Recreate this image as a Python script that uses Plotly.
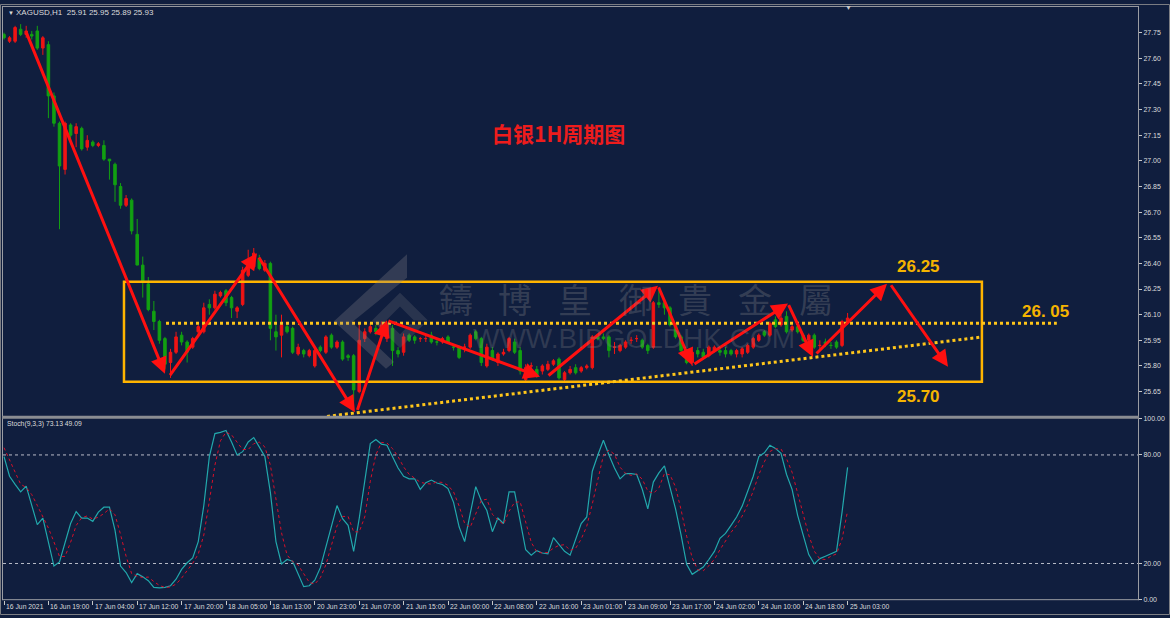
import plotly.graph_objects as go

W, H = 1170, 618
BG = '#101e3e'
RED = '#f01414'
GREEN = '#12a012'
GOLD = '#ffb400'
DOT = '#ffc61a'
TXT = '#dcdcdc'
FONT = 'Liberation Sans'

# ---------------- data ----------------
bar_index = list(range(153))
open_ = [27.74, 27.70, 27.70, 27.77, 27.74, 27.74, 27.76, 27.66, 27.68, 27.38,
         27.22, 26.95, 27.21, 27.16, 27.19, 27.08, 27.11, 27.09, 27.09, 27.01,
         26.98, 26.85, 26.74, 26.77, 26.57, 26.39, 26.28, 26.12, 26.06, 25.96,
         25.82, 25.88, 25.98, 25.94, 25.91, 26.00, 26.00, 26.16, 26.14, 26.21,
         26.24, 26.20, 26.12, 26.16, 26.33, 26.38, 26.43, 26.36, 26.40, 26.00,
         25.98, 26.03, 26.02, 25.87, 25.89, 25.86, 25.80, 25.91, 25.88, 25.98,
         25.91, 25.94, 25.86, 25.86, 25.65, 25.96, 26.00, 26.02, 26.01, 25.96,
         26.02, 25.89, 25.88, 25.98, 25.97, 25.96, 25.96, 25.98, 25.94, 25.94,
         25.97, 25.91, 25.91, 25.91, 25.91, 26.00, 25.96, 25.80, 25.89, 25.82,
         25.87, 25.89, 25.94, 25.89, 25.72, 25.80, 25.78, 25.77, 25.78, 25.81,
         25.84, 25.72, 25.76, 25.79, 25.77, 25.79, 25.79, 25.97, 25.97, 25.97,
         25.91, 25.89, 25.91, 25.95, 25.96, 25.95, 25.92, 25.91, 26.17, 26.17,
         26.14, 26.04, 25.97, 25.89, 25.82, 25.89, 25.88, 25.86, 25.89, 25.89,
         25.89, 25.89, 25.87, 25.87, 25.88, 25.91, 25.95, 26.00, 25.98, 26.07,
         26.04, 26.09, 26.01, 26.03, 25.98, 25.95, 25.98, 25.92, 25.94, 25.92,
         25.94, 25.92, 26.05]
high = [27.75, 27.73, 27.79, 27.80, 27.79, 27.76, 27.79, 27.73, 27.70, 27.40,
        27.23, 27.23, 27.22, 27.22, 27.20, 27.15, 27.12, 27.11, 27.12, 27.01,
        26.99, 26.87, 26.80, 26.78, 26.66, 26.44, 26.32, 26.18, 26.07, 25.97,
        25.90, 26.00, 26.00, 25.95, 25.97, 26.04, 26.17, 26.19, 26.24, 26.24,
        26.25, 26.21, 26.15, 26.38, 26.48, 26.49, 26.45, 26.42, 26.41, 26.10,
        26.10, 26.05, 26.03, 25.93, 25.90, 25.90, 25.90, 25.92, 25.98, 25.99,
        25.95, 25.95, 25.87, 25.87, 26.05, 26.02, 26.05, 26.04, 26.06, 26.05,
        26.04, 25.91, 25.99, 25.99, 25.98, 25.97, 25.98, 26.00, 25.95, 25.97,
        25.98, 25.92, 25.92, 25.93, 25.99, 26.01, 25.97, 25.93, 25.91, 25.88,
        25.90, 25.97, 25.96, 25.91, 25.81, 25.82, 25.80, 25.81, 25.83, 25.84,
        25.85, 25.77, 25.80, 25.81, 25.80, 25.81, 25.98, 25.98, 25.99, 25.98,
        25.94, 25.93, 25.95, 25.97, 25.98, 25.96, 25.93, 26.18, 26.25, 26.18,
        26.15, 26.05, 25.98, 25.90, 25.89, 25.91, 25.90, 25.92, 25.92, 25.90,
        25.91, 25.90, 25.90, 25.91, 25.93, 25.97, 25.99, 26.01, 26.06, 26.09,
        26.10, 26.12, 26.04, 26.04, 25.99, 25.99, 25.99, 25.95, 25.96, 25.94,
        25.95, 26.07, 26.11]
low = [27.71, 27.69, 27.69, 27.73, 27.72, 27.71, 27.65, 27.62, 27.25, 27.20,
       26.60, 26.92, 27.12, 27.08, 27.06, 27.06, 27.08, 27.08, 27.00, 26.89,
       26.76, 26.72, 26.73, 26.57, 26.39, 26.20, 26.12, 26.01, 25.93, 25.78,
       25.73, 25.87, 25.92, 25.82, 25.90, 25.98, 25.99, 26.10, 26.13, 26.20,
       26.15, 26.08, 26.08, 26.15, 26.32, 26.37, 26.36, 26.35, 25.95, 25.89,
       25.85, 25.99, 25.87, 25.86, 25.85, 25.85, 25.79, 25.88, 25.87, 25.90,
       25.90, 25.83, 25.83, 25.59, 25.64, 25.94, 25.99, 25.98, 26.00, 25.94,
       25.80, 25.85, 25.86, 25.94, 25.93, 25.94, 25.94, 25.93, 25.92, 25.93,
       25.93, 25.89, 25.84, 25.88, 25.90, 25.95, 25.80, 25.79, 25.83, 25.80,
       25.86, 25.88, 25.87, 25.75, 25.70, 25.78, 25.73, 25.75, 25.77, 25.80,
       25.72, 25.70, 25.75, 25.75, 25.76, 25.78, 25.78, 25.95, 25.95, 25.85,
       25.87, 25.88, 25.90, 25.93, 25.94, 25.90, 25.87, 25.90, 26.14, 26.10,
       26.03, 25.96, 25.88, 25.81, 25.80, 25.85, 25.84, 25.85, 25.88, 25.86,
       25.85, 25.86, 25.85, 25.85, 25.87, 25.90, 25.94, 25.97, 25.97, 26.02,
       26.03, 25.99, 26.00, 25.99, 25.94, 25.94, 25.90, 25.90, 25.91, 25.90,
       25.90, 25.91, 26.04]
close = [27.72, 27.72, 27.78, 27.74, 27.76, 27.73, 27.66, 27.72, 27.38, 27.22,
         26.97, 27.22, 27.15, 27.20, 27.07, 27.12, 27.09, 27.10, 27.01, 27.00,
         26.86, 26.74, 26.78, 26.59, 26.39, 26.29, 26.13, 26.06, 25.95, 25.81,
         25.88, 25.97, 25.94, 25.88, 25.96, 26.03, 26.14, 26.14, 26.22, 26.23,
         26.17, 26.14, 26.14, 26.36, 26.40, 26.46, 26.37, 26.40, 26.02, 25.97,
         26.04, 26.00, 25.88, 25.91, 25.87, 25.89, 25.89, 25.89, 25.97, 25.91,
         25.94, 25.84, 25.85, 25.66, 25.95, 26.00, 26.03, 26.00, 26.04, 26.04,
         25.89, 25.87, 25.97, 25.95, 25.95, 25.96, 25.96, 25.94, 25.94, 25.96,
         25.94, 25.91, 25.85, 25.91, 25.98, 25.96, 25.82, 25.91, 25.84, 25.87,
         25.88, 25.96, 25.88, 25.77, 25.79, 25.80, 25.74, 25.80, 25.81, 25.83,
         25.73, 25.76, 25.78, 25.76, 25.79, 25.80, 25.97, 25.96, 25.96, 25.89,
         25.91, 25.92, 25.94, 25.95, 25.96, 25.91, 25.89, 26.17, 26.16, 26.14,
         26.04, 25.97, 25.89, 25.82, 25.88, 25.87, 25.85, 25.91, 25.91, 25.88,
         25.87, 25.87, 25.89, 25.90, 25.92, 25.96, 25.98, 25.98, 26.05, 26.03,
         26.08, 26.00, 26.03, 26.00, 25.95, 25.98, 25.91, 25.92, 25.93, 25.92,
         25.91, 26.06, 26.08]

stoch_main = [79.1, 68.2, 63.7, 59.6, 62.8, 52.0, 41.5, 45.1, 32.1, 18.6,
              20.9, 32.1, 42.1, 48.7, 45.1, 45.1, 43.3, 48.4, 51.1, 51.1,
              38.4, 18.6, 15.0, 9.5, 14.4, 12.6, 10.5, 6.8, 6.5, 6.8,
              7.7, 11.3, 16.7, 20.4, 23.1, 32.1, 52.0, 79.1, 91.8, 92.5,
              93.5, 87.2, 80.0, 81.8, 87.2, 89.6, 84.5, 79.1, 59.2, 32.1,
              19.8, 22.2, 21.3, 14.0, 7.2, 7.7, 10.8, 17.7, 29.4, 41.1,
              52.0, 44.8, 41.1, 26.7, 44.8, 65.5, 86.3, 88.5, 86.0, 85.4,
              79.1, 72.8, 68.2, 66.8, 66.8, 61.0, 64.7, 66.1, 64.5, 63.7,
              61.4, 53.8, 40.3, 32.1, 47.5, 62.5, 54.7, 49.3, 37.6, 45.1,
              42.1, 59.6, 59.6, 43.0, 27.6, 24.6, 27.1, 25.8, 25.3, 34.3,
              30.3, 26.7, 24.6, 33.9, 42.1, 45.7, 71.0, 80.0, 88.1, 80.0,
              72.8, 66.8, 69.7, 69.7, 69.2, 61.0, 50.2, 65.0, 70.1, 74.0,
              62.8, 50.2, 35.7, 19.5, 14.0, 15.9, 18.0, 22.2, 26.7, 33.9,
              36.6, 41.1, 45.7, 51.7, 60.1, 68.2, 79.1, 81.2, 85.4, 83.6,
              80.9, 69.2, 61.0, 46.6, 35.7, 24.9, 19.8, 22.7, 24.0, 25.3,
              26.7, 48.4, 73.13]
stoch_signal = [84.0, 77.0, 70.3, 63.8, 62.0, 58.1, 52.1, 46.2, 39.6, 31.9,
                23.9, 23.9, 31.7, 41.0, 45.3, 46.3, 44.5, 45.6, 47.6, 50.2,
                46.9, 36.0, 24.0, 14.4, 13.0, 12.2, 12.5, 10.0, 7.9, 6.7,
                7.0, 8.6, 11.9, 16.1, 20.1, 25.2, 35.7, 54.4, 74.3, 87.8,
                92.6, 91.1, 86.9, 83.0, 83.0, 86.2, 87.1, 84.4, 74.3, 56.8,
                37.0, 24.7, 21.1, 19.2, 14.2, 9.6, 8.6, 12.1, 19.3, 29.4,
                40.8, 46.0, 46.0, 37.5, 37.5, 45.7, 65.5, 80.1, 86.9, 86.6,
                83.5, 79.1, 73.4, 69.3, 67.3, 64.9, 64.2, 63.9, 65.1, 64.8,
                63.2, 59.6, 51.8, 42.1, 40.0, 47.4, 54.9, 55.5, 47.2, 44.0,
                41.6, 48.9, 53.8, 54.1, 43.4, 31.7, 26.4, 25.8, 26.1, 28.5,
                30.0, 30.4, 27.2, 28.4, 33.5, 40.6, 52.9, 65.6, 79.7, 82.7,
                80.3, 73.2, 69.8, 68.7, 69.5, 66.6, 60.1, 58.7, 61.8, 69.7,
                69.0, 62.3, 49.6, 35.1, 23.1, 16.5, 16.0, 18.7, 22.3, 27.6,
                32.4, 37.2, 41.1, 46.2, 52.5, 60.0, 69.1, 76.2, 81.9, 83.4,
                83.3, 77.9, 70.4, 58.9, 47.8, 35.7, 26.8, 22.5, 22.2, 24.0,
                25.3, 33.5, 49.09]

time_label_index = [0, 8, 16, 24, 32, 40, 48, 56, 64, 72, 80, 88, 96, 104,
                    112, 120, 128, 136, 144, 152]
time_labels = ['16 Jun 2021', '16 Jun 19:00', '17 Jun 04:00', '17 Jun 12:00',
               '17 Jun 20:00', '18 Jun 05:00', '18 Jun 13:00', '20 Jun 23:00',
               '21 Jun 07:00', '21 Jun 15:00', '22 Jun 00:00', '22 Jun 08:00',
               '22 Jun 16:00', '23 Jun 01:00', '23 Jun 09:00', '23 Jun 17:00',
               '24 Jun 02:00', '24 Jun 10:00', '24 Jun 18:00', '25 Jun 03:00']
price_ticks = [25.65, 25.80, 25.95, 26.10, 26.25, 26.40, 26.55, 26.70, 26.85,
               27.00, 27.15, 27.30, 27.45, 27.60, 27.75]
stoch_ticks = [0, 20, 80, 100]

# analyst drawings (bar index, price)
zigzag = [(3.96, 27.756, 29.0, 25.754), (29.73, 25.737, 45.59, 26.460),
          (45.77, 26.443, 63.24, 25.529), (63.6, 25.534, 69.0, 26.067),
          (69.0, 26.067, 96.58, 25.737), (97.84, 25.737, 117.84, 26.269),
          (117.84, 26.269, 123.96, 25.806), (124.14, 25.806, 141.26, 26.165),
          (141.26, 26.165, 145.77, 25.853), (146.13, 25.864, 159.1, 26.281),
          (159.64, 26.281, 170.09, 25.795)]
box_range = (21.62, 176.2, 25.708, 26.292)
resistance = (29.19, 189.7, 26.05)
support_line = (58.2, 25.505, 175.9, 25.968)
level_labels = [('26.25', 164.7, 26.379), ('26. 05', 187.7, 26.119), ('25.70', 164.7, 25.621)]

# ---------------- geometry helpers ----------------
def px(x):
    return x / W

def py(y):
    return 1 - y / H

XDOM = [px(3), px(1138)]
XR = [(3 - 4) / 5.55, (1138 - 4) / 5.55]

fig = go.Figure()

fig.add_trace(go.Candlestick(
    x=bar_index, open=open_, high=high, low=low, close=close,
    xaxis='x', yaxis='y', whiskerwidth=0,
    increasing=dict(line=dict(color=RED, width=1), fillcolor=RED),
    decreasing=dict(line=dict(color=GREEN, width=1), fillcolor=GREEN),
    hoverinfo='skip', showlegend=False))

fig.add_trace(go.Scatter(x=bar_index, y=stoch_main, xaxis='x2', yaxis='y2',
                         mode='lines', line=dict(color='#22a8ac', width=1.2),
                         hoverinfo='skip', showlegend=False))
fig.add_trace(go.Scatter(x=bar_index, y=stoch_signal, xaxis='x2', yaxis='y2',
                         mode='lines', line=dict(color='#d8102a', width=1, dash='dot'),
                         hoverinfo='skip', showlegend=False))

shapes = []
for lv in (20, 80):
    shapes.append(dict(type='line', xref='x2 domain', yref='y2', x0=0, x1=1, y0=lv, y1=lv,
                       line=dict(color='#b8bcc8', width=1, dash='dot'), layer='below'))
shapes.append(dict(type='rect', xref='x', yref='y', x0=box_range[0], x1=box_range[1],
                   y0=box_range[2], y1=box_range[3], line=dict(color=GOLD, width=2.5),
                   layer='above'))
shapes.append(dict(type='line', xref='x', yref='y', x0=resistance[0], x1=resistance[1],
                   y0=resistance[2], y1=resistance[2],
                   line=dict(color=DOT, width=3, dash='dot'), layer='above'))
shapes.append(dict(type='line', xref='x', yref='y', x0=support_line[0], y0=support_line[1],
                   x1=support_line[2], y1=support_line[3],
                   line=dict(color=DOT, width=3, dash='dot'), layer='above'))


def path(pts):
    return 'M ' + ' L '.join(f'{px(a):.5f},{py(b):.5f}' for a, b in pts) + ' Z'


shapes.append(dict(type='path', xref='paper', yref='paper',
                   path=path([(407, 253), (407, 277), (352, 322), (394, 362), (386, 369), (334, 321)]),
                   fillcolor='rgba(130,130,135,0.30)', line=dict(width=0), layer='above'))
shapes.append(dict(type='path', xref='paper', yref='paper',
                   path=path([(372, 320), (400, 292), (428, 320), (414, 320), (400, 306), (386, 320),
                              (400, 334), (410, 324), (424, 324), (400, 348)]),
                   fillcolor='rgba(130,130,135,0.22)', line=dict(width=0), layer='above'))

FR = '#9a9ca2'
shapes += [
    dict(type='rect', xref='paper', yref='paper', x0=px(0.5), x1=px(1169.5), y0=py(617.5), y1=py(0.5),
         line=dict(color='#7c7e84', width=1)),
    dict(type='line', xref='paper', yref='paper', x0=px(2), x1=px(1139), y0=py(2.5), y1=py(2.5),
         line=dict(color=FR, width=1)),
    dict(type='line', xref='paper', yref='paper', x0=px(2.5), x1=px(2.5), y0=py(2), y1=py(603),
         line=dict(color=FR, width=1)),
    dict(type='line', xref='paper', yref='paper', x0=px(1138.5), x1=px(1138.5), y0=py(2), y1=py(603),
         line=dict(color=FR, width=1)),
    dict(type='rect', xref='paper', yref='paper', x0=px(2), x1=px(1139), y0=py(419.5), y1=py(416.5),
         fillcolor='#8a8c92', line=dict(width=0)),
    dict(type='line', xref='paper', yref='paper', x0=px(2), x1=px(1139), y0=py(602.5), y1=py(602.5),
         line=dict(color=FR, width=1)),
]

ann = []
for x0, y0, x1, y1 in zigzag:
    ann.append(dict(x=x1, y=y1, ax=x0, ay=y0, xref='x', yref='y', axref='x', ayref='y',
                    showarrow=True, arrowhead=2, arrowsize=1.1, arrowwidth=3,
                    arrowcolor='#ff1010', text=''))


def note(x, y, text, size, color, family=FONT, xanchor='center', xref='paper', yref='paper'):
    return dict(x=x, y=y, xref=xref, yref=yref, text=text, showarrow=False,
                xanchor=xanchor, yanchor='middle',
                font=dict(family=family, size=size, color=color))


ann.append(note(px(558), py(130), '<b>白银1H周期图</b>', 21, '#ee1c1c', 'Noto Sans CJK SC'))
for t, xi, pr in level_labels:
    ann.append(note(xi, pr, f'<b>{t}</b>', 17, '#f5b400', xref='x', yref='y'))

for ch, cx in zip('鑄博皇御貴金屬', [456, 515, 575, 636, 695, 755, 816]):
    ann.append(note(px(cx), py(298), ch, 34, 'rgba(130,130,135,0.32)', 'Noto Sans CJK TC'))
ann.append(note(px(634), py(338), 'WWW.BIBGOLDHK.COM', 28, 'rgba(130,130,135,0.28)'))

ann.append(note(px(6), py(9), '▼', 6, TXT, xanchor='left'))
ann.append(note(px(14), py(9), 'XAGUSD,H1  25.91 25.95 25.89 25.93', 8, TXT, xanchor='left'))
ann.append(note(px(848), py(4), '▼', 7, '#c8c8c8'))
ann.append(note(px(5), py(425), 'Stoch(9,3,3) 73.13 49.09', 6.8, TXT, xanchor='left'))

for idx, lab in zip(time_label_index, time_labels):
    ann.append(note(idx, py(609), lab, 6.8, TXT, xanchor='left', xref='x2'))

fig.update_layout(
    width=W, height=H, margin=dict(l=0, r=0, t=0, b=0),
    paper_bgcolor=BG, plot_bgcolor=BG, showlegend=False,
    xaxis=dict(domain=XDOM, range=XR, anchor='y', showticklabels=False, showgrid=False,
               zeroline=False, ticks='', rangeslider=dict(visible=False), fixedrange=True),
    yaxis=dict(domain=[py(417), py(3)], range=[25.5055, 27.9004], anchor='x', side='right',
               tickvals=price_ticks, ticktext=[f'{v:.2f}' for v in price_ticks],
               ticks='outside', ticklen=3, tickcolor='#c8c8c8', showgrid=False, zeroline=False,
               tickfont=dict(family=FONT, size=7, color=TXT)),
    xaxis2=dict(domain=XDOM, range=XR, anchor='y2', showticklabels=False, showgrid=False,
                zeroline=False, tickvals=time_label_index, ticks='outside', ticklen=4,
                tickcolor='#c8c8c8'),
    yaxis2=dict(domain=[py(602.5), py(419.5)], range=[0, 100], anchor='x2', side='right',
                tickvals=stoch_ticks, ticktext=[f'{v:.2f}' for v in stoch_ticks],
                ticks='outside', ticklen=3, tickcolor='#c8c8c8', showgrid=False, zeroline=False,
                tickfont=dict(family=FONT, size=7, color=TXT)),
    boxgap=0.35,
    shapes=shapes, annotations=ann,
)

fig.write_html('out.html')
